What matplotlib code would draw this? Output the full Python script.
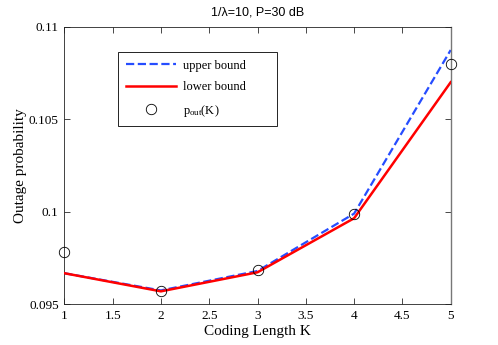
import matplotlib
matplotlib.use("Agg")
import matplotlib.pyplot as plt

K = [1, 2, 3, 4, 5]
upper_bound = [0.09668, 0.09575, 0.09680, 0.09990, 0.10874]
lower_bound = [0.09668, 0.09570, 0.09673, 0.09965, 0.10700]
p_out = [0.09781, 0.09574, 0.09684, 0.09986, 0.10798]

xticks = [1, 1.5, 2, 2.5, 3, 3.5, 4, 4.5, 5]
xticklabels = ["1", "1.5", "2", "2.5", "3", "3.5", "4", "4.5", "5"]
yticks = [0.095, 0.1, 0.105, 0.11]
yticklabels = ["0.095", "0.1", "0.105", "0.11"]

serif = 'Liberation Serif'
plt.rcParams['mathtext.fontset'] = 'custom'
plt.rcParams['mathtext.rm'] = serif
plt.rcParams['mathtext.it'] = serif + ':italic'

fig = plt.figure(figsize=(4.98, 3.45), dpi=100)
ax = fig.add_axes([64.3/498, 1-304.3/345, (450.7-64.3)/498, (304.3-26.7)/345])

ax.plot(K, upper_bound, '--', color=(0.15, 0.3, 1.0), lw=1.6, label='upper bound', zorder=2)
ax.plot(K, lower_bound, '-', color='red', lw=1.8, label='lower bound', zorder=3)
ax.plot(K, p_out, 'o', mfc='none', mec='black', mew=0.6, ms=7.5, clip_on=False,
        label=r'$\mathrm{p}_{\mathrm{out}}\mathrm{(K)}$', zorder=4)

ax.set_xlim(1, 5)
ax.set_ylim(0.095, 0.11)
ax.set_xticks(xticks)
ax.set_xticklabels(xticklabels, family=serif, fontsize=9.5)
ax.set_yticks(yticks)
ax.set_yticklabels(yticklabels, family=serif, fontsize=9.5)
ax.tick_params(direction='in', top=True, right=True, length=4, width=0.5, pad=4)
for s in ax.spines.values():
    s.set_linewidth(0.6)
    s.set_color('#222222')
ax.spines['right'].set_color('#777777')
ax.spines['right'].set_linewidth(1.0)

ax.set_xlabel('Coding Length K', family=serif, fontsize=11, labelpad=2)
ax.set_ylabel('Outage probability', family=serif, fontsize=11, labelpad=1)
ax.set_title('1/\u03bb=10, P=30 dB', family='Liberation Sans', fontsize=9, pad=8)

leg = ax.legend(loc='upper left',
                bbox_to_anchor=((118.3-64.3)/386.4, 1-(52.3-26.7)/277.6, (277-118.3)/386.4, 0),
                mode='expand', prop={'family': serif, 'size': 9},
                handlelength=4.0, handletextpad=0.55, labelspacing=0.75,
                borderpad=0.6, borderaxespad=0, fancybox=False, framealpha=1,
                edgecolor='black')
leg.get_frame().set_linewidth(0.6)

fig.savefig('out.png', dpi=100)
